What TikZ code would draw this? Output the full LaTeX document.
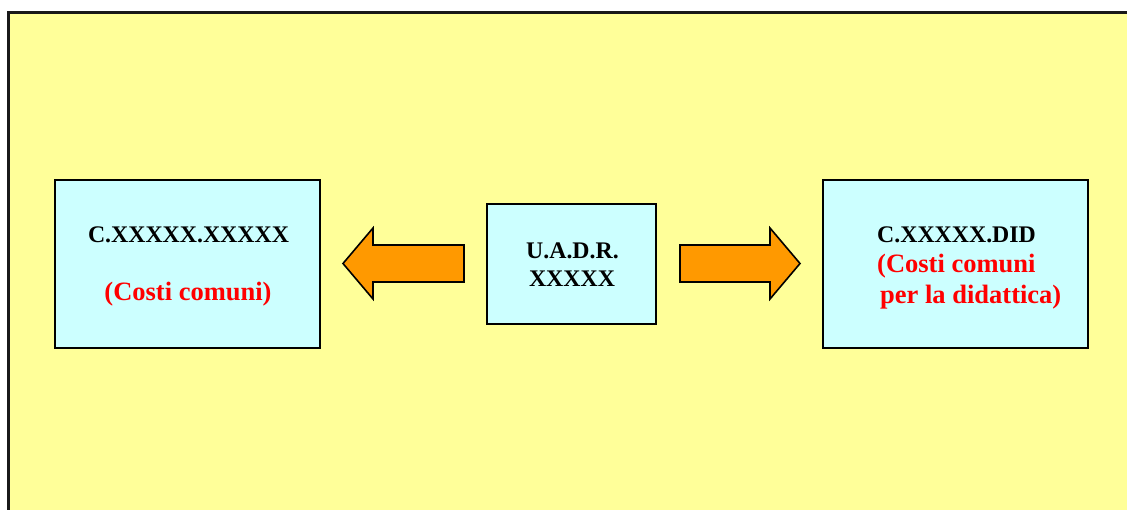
\documentclass[tikz,border=0pt]{standalone}
\usepackage{fontspec}
\setmainfont{Liberation Serif}
\definecolor{bgyellow}{HTML}{FFFF99}
\definecolor{boxcyan}{HTML}{CCFFFF}
\definecolor{arroworange}{HTML}{FF9900}
\definecolor{notered}{HTML}{FF0000}
\begin{document}
\begin{tikzpicture}[x=1pt,y=-1pt,
  unitbox/.style={draw=black,line width=2pt,fill=boxcyan,inner sep=0pt},
  blockarrow/.style={draw=black,line width=1.6pt,fill=arroworange,line join=miter},
  codetext/.style={font=\fontsize{23.8}{28}\selectfont\bfseries,inner sep=0pt,text=black},
  notetext/.style={font=\fontsize{26.5}{31}\selectfont\bfseries,inner sep=0pt,text=notered}]
\useasboundingbox (0,0) rectangle (1127,509);
% sheet with frame on the left and top only
\fill[bgyellow] (8,12) rectangle (1130,512);
\draw[line width=3pt,black!90] (8,512) -- (8,12) -- (1130,12);
% boxes
\node[unitbox,minimum width=265pt,minimum height=168pt] (left) at (187.5,264) {};
\node[unitbox,minimum width=169pt,minimum height=120pt] (centre) at (571.5,264) {};
\node[unitbox,minimum width=265pt,minimum height=168pt] (right) at (955.5,264) {};
% block arrows pointing outwards from the centre box
\draw[blockarrow] (464,245) -- (373,245) -- (373,228) -- (343,263.5) -- (373,299) -- (373,282) -- (464,282) -- cycle;
\draw[blockarrow] (680,245) -- (770,245) -- (770,228) -- (800,263.5) -- (770,299) -- (770,282) -- (680,282) -- cycle;
% texts
\node[codetext,anchor=base] (lcode) at (188.5,242) {C.XXXXX.XXXXX};
\node[notetext,anchor=base] (lnote) at (188,300) {(Costi comuni)};
\node[codetext,anchor=base] (ccode1) at (572.5,258) {U.A.D.R.};
\node[codetext,anchor=base] (ccode2) at (572,286) {XXXXX};
\node[codetext,anchor=base west] (rcode) at (877,242) {C.XXXXX.DID};
\node[notetext,anchor=base west] (rnote1) at (877,272) {(Costi comuni};
\node[notetext,anchor=base west] (rnote2) at (880,303) {per la didattica)};
\end{tikzpicture}
\end{document}
